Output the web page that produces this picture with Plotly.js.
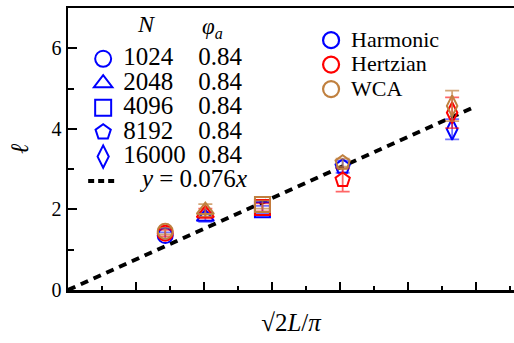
<!DOCTYPE html>
<html><head><meta charset="utf-8">
<script src="https://cdn.plot.ly/plotly-3.0.1.min.js"></script>
<style>html,body{margin:0;padding:0;background:#fff}</style>
</head><body><div id="chart" style="width:514px;height:343px"></div>
<script>
// ---- data ----
const sizesN = ['1024', '2048', '4096', '8192', '16000'];
const phiA = ['0.84', '0.84', '0.84', '0.84', '0.84'];
const symbols = ['circle-open', 'triangle-up-open', 'square-open', 'pentagon-open', 'diamond-tall-open'];
const xVals = [14.3, 20.2, 28.6, 40.4, 56.5];
const harmonicY = [1.35, 1.81, 1.99, 3.06, 3.99];
const harmonicErr = [0.08, 0.12, 0.10, 0.15, 0.25];
const hertzianY = [1.41, 1.90, 2.05, 2.73, 4.40];
const hertzianErr = [0.08, 0.12, 0.10, 0.29, 0.38];
const wcaY = [1.46, 1.98, 2.12, 3.16, 4.57];
const wcaErr = [0.08, 0.15, 0.10, 0.10, 0.38];
const models = ['Harmonic', 'Hertzian', 'WCA'];
const slope = 0.076;
const fitX = [0, 60];
const yTicks = [0, 2, 4, 6];

const colors = ['#0000ff', '#ff0000', '#c0803f'];
const errColors = ['rgba(0,0,255,0.55)', 'rgba(255,0,0,0.6)', 'rgba(192,128,63,0.7)'];
const seriesY = [harmonicY, hertzianY, wcaY];
const seriesErr = [harmonicErr, hertzianErr, wcaErr];
const FONT = '"Liberation Serif", "DejaVu Serif", serif';
const nb = n => '\u00a0'.repeat(n);

const traces = [];
// fit line
traces.push({
  x: fitX, y: fitX.map(v => slope * v), mode: 'lines', type: 'scatter',
  line: {color: '#000', width: 4, dash: '8px,6px'}, showlegend: false, hoverinfo: 'skip'
});
// data
models.forEach((m, i) => {
  traces.push({
    x: xVals, y: seriesY[i], type: 'scatter', mode: 'markers', name: m, showlegend: false,
    marker: {symbol: symbols, size: 15, color: colors[i], line: {color: colors[i], width: 2}},
    error_y: {type: 'data', array: seriesErr[i], visible: true, color: errColors[i], thickness: 1.8, width: 7}
  });
});
// legend 1 entries (N, phi)
sizesN.forEach((n, i) => {
  const pad = nb(2 + 2 * (5 - n.length));
  traces.push({
    x: [null], y: [null], type: 'scatter', mode: 'markers', legend: 'legend',
    name: '<span style="font-size:25px">' + n + pad + phiA[i] + '</span>',
    marker: {symbol: symbols[i], size: 16, color: '#0000ff', line: {color: '#0000ff', width: 2}}
  });
});
traces.push({
  x: [null], y: [null], type: 'scatter', mode: 'lines', legend: 'legend',
  name: '<span style="font-size:25px">' + nb(3) + '<i>y</i>' + nb(1) + '=' + nb(1) + slope + '<i>x</i></span>',
  line: {color: '#000', width: 4, dash: '6px,4px'}
});
// legend 2 entries (models)
models.forEach((m, i) => {
  traces.push({
    x: [null], y: [null], type: 'scatter', mode: 'markers', legend: 'legend2',
    name: '<span style="font-size:22px">' + m + '</span>',
    marker: {symbol: 'circle-open', size: 16, color: colors[i], line: {color: colors[i], width: 2.2}}
  });
});

const layout = {
  width: 514, height: 343,
  margin: {l: 68, r: 0, t: 8, b: 53},
  paper_bgcolor: '#fff', plot_bgcolor: '#fff',
  font: {family: FONT, color: '#000', size: 20},
  showlegend: true,
  xaxis: {
    range: [0, 65.6], showline: true, mirror: true, linecolor: '#000', linewidth: 2.5,
    ticks: 'inside', ticklen: 8, tickwidth: 2, tickcolor: '#000', dtick: 10, tick0: 0,
    showticklabels: false, showgrid: false, zeroline: false,
    minor: {ticks: 'inside', ticklen: 4, tickwidth: 2, dtick: 5, tickcolor: '#000', showgrid: false},
    title: {text: '√2<i>L</i>/<i>π</i>', font: {size: 25, family: FONT}, standoff: 22}
  },
  yaxis: {
    range: [0, 7], showline: true, mirror: false, linecolor: '#000', linewidth: 2.5,
    ticks: 'inside', ticklen: 9, tickwidth: 2, tickcolor: '#000', tickvals: yTicks,
    tickfont: {size: 20, family: FONT}, showgrid: false, zeroline: false,
    minor: {ticks: 'inside', ticklen: 6, tickwidth: 2, dtick: 1, tickcolor: '#000', showgrid: false},
    title: {text: '<i>ℓ</i>', font: {size: 25, family: FONT}, standoff: 16}
  },
  legend: {
    x: 0.034, y: 0.881, xanchor: 'left', yanchor: 'top', bgcolor: 'rgba(0,0,0,0)',
    borderwidth: 0, font: {size: 16.5, family: FONT}, tracegroupgap: 0
  },
  legend2: {
    x: 0.545, y: 0.947, xanchor: 'left', yanchor: 'top', bgcolor: 'rgba(0,0,0,0)',
    borderwidth: 0, font: {size: 16.5, family: FONT}
  },
  annotations: [
    {text: '<i>N</i>', xref: 'paper', yref: 'paper', x: 0.177, y: 0.943, xanchor: 'center', yanchor: 'middle',
     showarrow: false, font: {size: 24, family: FONT}},
    {text: '<i>φ<sub>a</sub></i>', xref: 'paper', yref: 'paper', x: 0.325, y: 0.93, xanchor: 'center', yanchor: 'middle',
     showarrow: false, font: {size: 23, family: FONT}}
  ]
};

Plotly.newPlot('chart', traces, layout, {staticPlot: true, displayModeBar: false});
</script>
</body></html>
